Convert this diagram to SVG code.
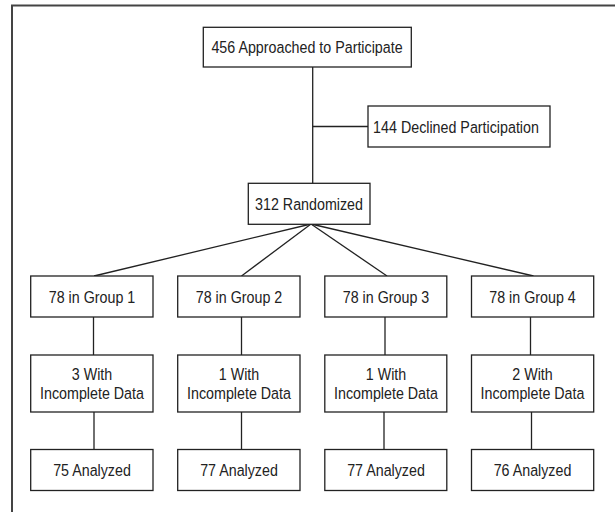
<svg xmlns="http://www.w3.org/2000/svg" width="615" height="512" viewBox="0 0 615 512">
<style>
.box{fill:#fff;stroke:#222;stroke-width:1.3}
.ln{stroke:#222;stroke-width:1.3;fill:none}
.frame{stroke:#444;stroke-width:2;fill:none}
text{font-family:"Liberation Sans",Arial,sans-serif;font-size:17px;fill:#222;text-anchor:middle}
</style>
<rect width="615" height="512" fill="#fff"/>
<path class="frame" d="M12,512 V5.5 H615"/>
<g id="connectors">
<line class="ln" x1="312.7" y1="67" x2="312.7" y2="183"/>
<line class="ln" x1="312.7" y1="126.5" x2="368" y2="126.5"/>
<line class="ln" x1="311" y1="224" x2="94" y2="276"/>
<line class="ln" x1="311" y1="224" x2="241.5" y2="276"/>
<line class="ln" x1="311" y1="224" x2="387" y2="276"/>
<line class="ln" x1="311" y1="224" x2="533.5" y2="276"/>
<line class="ln" x1="93.5" y1="317" x2="93.5" y2="355"/>
<line class="ln" x1="241.5" y1="317" x2="241.5" y2="355"/>
<line class="ln" x1="385" y1="317" x2="385" y2="355"/>
<line class="ln" x1="530.5" y1="317" x2="530.5" y2="355"/>
<line class="ln" x1="94" y1="412" x2="94" y2="449.5"/>
<line class="ln" x1="241.5" y1="412" x2="241.5" y2="449.5"/>
<line class="ln" x1="384" y1="412" x2="384" y2="449.5"/>
<line class="ln" x1="531.5" y1="412" x2="531.5" y2="449.5"/>
</g>
<g id="approached"><rect class="box" x="203.3" y="27.3" width="208" height="39.7"/><text transform="translate(307,52.5) scale(0.84,1)">456 Approached to Participate</text></g>
<g id="declined"><rect class="box" x="368" y="106" width="182" height="41"/><text transform="translate(456,132.5) scale(0.84,1)">144 Declined Participation</text></g>
<g id="randomized"><rect class="box" x="248.3" y="183.3" width="121.7" height="41"/><text transform="translate(309,209.5) scale(0.84,1)">312 Randomized</text></g>
<g id="group1"><rect class="box" x="30.7" y="276" width="122.3" height="41"/><text transform="translate(92,302.5) scale(0.84,1)">78 in Group 1</text></g>
<g id="group2"><rect class="box" x="177.7" y="276" width="122.3" height="41"/><text transform="translate(239,302.5) scale(0.84,1)">78 in Group 2</text></g>
<g id="group3"><rect class="box" x="324.8" y="276" width="122" height="41"/><text transform="translate(386,302.5) scale(0.84,1)">78 in Group 3</text></g>
<g id="group4"><rect class="box" x="471.5" y="276" width="122.2" height="41"/><text transform="translate(532.5,302.5) scale(0.84,1)">78 in Group 4</text></g>
<g id="incomplete1"><rect class="box" x="30.7" y="355" width="122.3" height="57"/><text transform="translate(92,380) scale(0.84,1)">3 With</text><text transform="translate(92,399) scale(0.84,1)">Incomplete Data</text></g>
<g id="incomplete2"><rect class="box" x="177.7" y="355" width="122.3" height="57"/><text transform="translate(239,380) scale(0.84,1)">1 With</text><text transform="translate(239,399) scale(0.84,1)">Incomplete Data</text></g>
<g id="incomplete3"><rect class="box" x="324.8" y="355" width="122" height="57"/><text transform="translate(386,380) scale(0.84,1)">1 With</text><text transform="translate(386,399) scale(0.84,1)">Incomplete Data</text></g>
<g id="incomplete4"><rect class="box" x="471.5" y="355" width="122.2" height="57"/><text transform="translate(532.5,380) scale(0.84,1)">2 With</text><text transform="translate(532.5,399) scale(0.84,1)">Incomplete Data</text></g>
<g id="analyzed1"><rect class="box" x="30.7" y="449.5" width="122.3" height="41"/><text transform="translate(92,476) scale(0.84,1)">75 Analyzed</text></g>
<g id="analyzed2"><rect class="box" x="177.7" y="449.5" width="122.3" height="41"/><text transform="translate(239,476) scale(0.84,1)">77 Analyzed</text></g>
<g id="analyzed3"><rect class="box" x="324.8" y="449.5" width="122" height="41"/><text transform="translate(386,476) scale(0.84,1)">77 Analyzed</text></g>
<g id="analyzed4"><rect class="box" x="471.5" y="449.5" width="122.2" height="41"/><text transform="translate(532.5,476) scale(0.84,1)">76 Analyzed</text></g>
</svg>
